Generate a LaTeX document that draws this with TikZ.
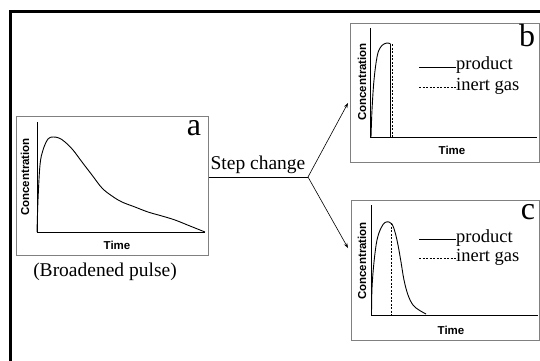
\documentclass[tikz,border=0pt]{standalone}
\usepackage{fontspec}
\setmainfont{Liberation Serif}
\newfontfamily\axfont{Liberation Sans}
\usetikzlibrary{arrows.meta}
\begin{document}
\begin{tikzpicture}[x=1pt,y=-1pt,
  panel/.style={draw=black!50,line width=0.9pt,rectangle,inner sep=0pt,anchor=north west},
  axis/.style={draw=black,line width=0.7pt},
  curve/.style={draw=black,line width=0.9pt},
  inert/.style={draw=black,line width=0.8pt,dash pattern=on 2pt off 1.5pt},
  axlabel/.style={font=\axfont\bfseries\fontsize{11.5}{12}\selectfont,inner sep=0pt},
  letter/.style={font=\fontsize{32}{32}\selectfont,inner sep=0pt},
  legtext/.style={font=\fontsize{18.5}{19}\selectfont,inner sep=0pt,anchor=west},
  bigtext/.style={font=\fontsize{19.5}{20}\selectfont,inner sep=0pt},
  conn/.style={draw=black,line width=0.6pt},
  arr/.style={conn,-{Stealth[length=5pt,width=3.5pt]}}
]
\useasboundingbox (0,0) rectangle (540,360);
\fill[white] (0,0) rectangle (540,360);
% outer frame
\draw[line width=2.5pt] (10.5,362) -- (10.5,11.3) -- (542,11.3);

% panel a
\node[panel,minimum width=192pt,minimum height=139pt] (pa) at (16,116) {};
\draw[axis] (37,122) -- (37,232) -- (205,232);
\node[axlabel,rotate=90] (ca) at (25,177) {Concentration};
\node[axlabel] (ta) at (117,245) {Time};
\node[letter] (la) at (194,128) {a};
\draw[curve] plot[smooth,tension=0.6] coordinates {(37,232) (38,200) (40,165) (43,150) (48,139) (53,137) (59,138) (65,142) (73,150) (82,162) (92,175) (102,188) (112,196) (122,202) (135,207) (148,212) (162,216) (175,220) (190,226) (205,232)};
\node[bigtext] (bp) at (105,272) {(Broadened pulse)};

% panel b
\node[panel,minimum width=189pt,minimum height=139pt] (pb) at (350,23) {};
\draw[axis] (370,28) -- (370,137) -- (537,137);
\node[axlabel,rotate=90] (cb) at (362,82) {Concentration};
\node[axlabel] (tb) at (452,150) {Time};
\node[letter] (lb) at (527,36) {b};
\draw[curve] plot[smooth,tension=0.6] coordinates {(371,137) (372,110) (374,80) (377,57) (380,48) (384,44) (388,43) (390.5,44)};
\draw[curve] (390.5,44) -- (390.5,137);
\draw[inert] (392,44) -- (392,137);
\coordinate (lb1) at (419,67);
\coordinate (lb2) at (456,67);
\draw[curve] (lb1) -- (lb2);
\node[legtext] (prb) at (456,65) {product};
\coordinate (lb3) at (419,87);
\coordinate (lb4) at (456,87);
\draw[inert] (lb3) -- (lb4);
\node[legtext] (igb) at (456,86) {inert gas};

% panel c
\node[panel,minimum width=188pt,minimum height=140pt] (pc) at (351,200) {};
\draw[axis] (371,205) -- (371,315) -- (538,315);
\node[axlabel,rotate=90] (cc) at (362,261) {Concentration};
\node[axlabel] (tc) at (451,330) {Time};
\node[letter] (lc) at (528,212) {c};
\draw[curve] plot[smooth,tension=0.6] coordinates {(371.5,315) (372,288) (374,262) (377,240) (381,228) (385,222.5) (389,222) (392,224) (395,232) (398,245) (401,262) (404,280) (408,295) (413,305) (419,310) (426,314)};
\draw[inert] (391,223) -- (391,315);
\coordinate (lc1) at (419,239);
\coordinate (lc2) at (456,239);
\draw[curve] (lc1) -- (lc2);
\node[legtext] (prc) at (456,238) {product};
\coordinate (lc3) at (419,258);
\coordinate (lc4) at (456,258);
\draw[inert] (lc3) -- (lc4);
\node[legtext] (igc) at (456,257) {inert gas};

% connectors
\coordinate (j) at (308,177);
\coordinate (tob) at (348,103);
\coordinate (toc) at (348,248);
\draw[conn] (pa.east |- j) -- (j);
\node[bigtext,anchor=south] (sc) at (258,174) {Step change};
\draw[arr] (j) -- (tob);
\draw[arr] (j) -- (toc);
\end{tikzpicture}
\end{document}
